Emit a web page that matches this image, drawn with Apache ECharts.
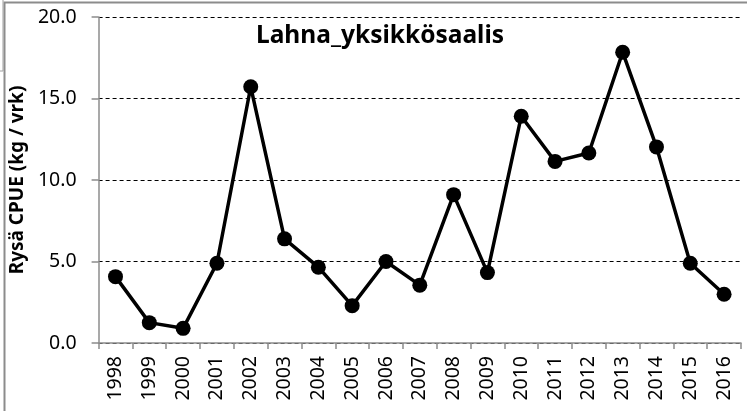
<!DOCTYPE html>
<html>
<head>
<meta charset="utf-8">
<script src="https://cdn.jsdelivr.net/npm/echarts@6/dist/echarts.min.js"></script>
<style>
  html, body { margin: 0; padding: 0; background: #fff; }
  #chart { width: 749px; height: 411px; }
</style>
</head>
<body>
<div id="chart"></div>
<script>
var years = ['1998', '1999', '2000', '2001', '2002', '2003', '2004', '2005', '2006', '2007',
  '2008', '2009', '2010', '2011', '2012', '2013', '2014', '2015', '2016'];
var cpue = [4.07, 1.25, 0.9, 4.89, 15.72, 6.39, 4.65, 2.29, 5.0, 3.55,
  9.1, 4.32, 13.91, 11.14, 11.66, 17.84, 12.03, 4.89, 2.99];

var chart = echarts.init(document.getElementById('chart'));

var option = {
  animation: false,
  textStyle: { fontFamily: 'Noto Sans' },
  title: {
    text: 'Lahna_yksikkösaalis',
    left: 375,
    textAlign: 'center',
    top: 19,
    textStyle: { fontSize: 24.5, fontWeight: 'bold', color: '#000', fontFamily: 'Noto Sans' }
  },
  graphic: [
    {
      // outer frame, top-left corner only
      type: 'polyline',
      shape: { points: [[4.5, 411], [4.5, 2.5], [747, 2.5]] },
      style: { stroke: '#8c8c8c', lineWidth: 2, fill: null }
    },
    {
      type: 'polyline',
      shape: { points: [[0, 71], [3, 71], [3, 0]] },
      style: { stroke: '#a0a0a0', lineWidth: 1, fill: null }
    }
  ],
  grid: { left: 98, right: 8, top: 17, bottom: 68 },
  xAxis: {
    type: 'category',
    data: years,
    boundaryGap: true,
    axisLine: { lineStyle: { color: '#8c8c8c', width: 1.5 } },
    axisTick: { show: true, length: 6, lineStyle: { color: '#8c8c8c', width: 1.5 } },
    axisLabel: { rotate: 90, fontSize: 19.5, color: '#000', margin: 13 }
  },
  yAxis: {
    type: 'value',
    min: 0,
    max: 20,
    interval: 5,
    name: 'Rysä CPUE (kg / vrk)',
    nameLocation: 'middle',
    nameGap: 66,
    nameTextStyle: { fontSize: 19, fontWeight: 'bold', color: '#000' },
    axisLine: { show: true, lineStyle: { color: '#8c8c8c', width: 1.5 } },
    axisTick: { show: true, length: 7, lineStyle: { color: '#8c8c8c', width: 1.5 } },
    axisLabel: {
      fontSize: 19.5, color: '#000', margin: 22,
      formatter: function (v) { return v.toFixed(1); }
    },
    splitLine: { show: true, lineStyle: { color: '#000', type: [4, 3], width: 1 } }
  },
  series: [
    {
      type: 'line',
      data: cpue,
      symbol: 'circle',
      symbolSize: 15,
      lineStyle: { color: '#000', width: 3.5 },
      itemStyle: { color: '#000' }
    }
  ]
};

chart.setOption(option);
</script>
</body>
</html>
